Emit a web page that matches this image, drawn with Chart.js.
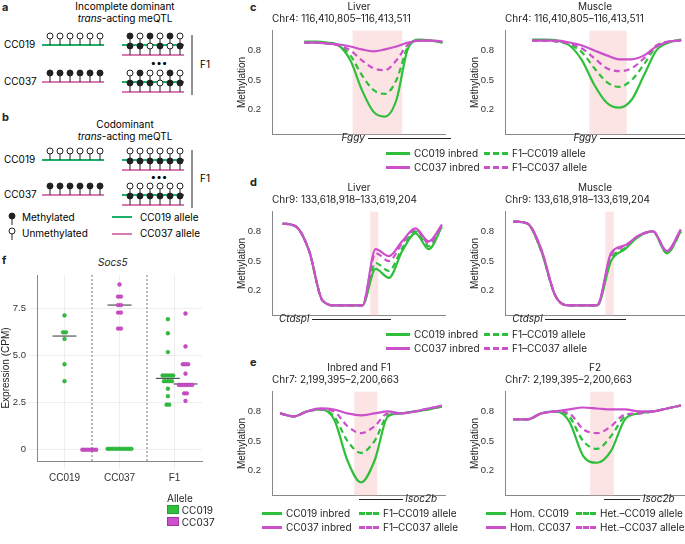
<!DOCTYPE html>
<html><head><meta charset="utf-8">
<script src="https://cdn.jsdelivr.net/npm/chart.js@4.4.0/dist/chart.umd.min.js"></script>
<style>
body{margin:0;width:685px;height:544px;position:relative;background:#fff;font-family:Inter,"Noto Sans",sans-serif;color:#222;overflow:hidden}
.abs{position:absolute}
.t{position:absolute;font-size:10px;white-space:nowrap}
.lab{position:absolute;font-weight:bold;font-size:11px}
.leg{position:absolute;font-size:10px;display:grid;row-gap:2px;white-space:nowrap}
.leg span{display:flex;align-items:center;gap:4px;white-space:nowrap}
.sw{display:inline-block;width:24px;height:0;border-top:3px solid;flex:none}
.small .sw{width:20px}
</style></head><body>
<svg id="diag" class="abs" style="left:0;top:0" width="240" height="250"></svg>
<div class="lab" style="left:2px;top:0">a</div>
<div class="lab" style="left:2px;top:110px">b</div>
<div class="lab" style="left:250px;top:0">c</div>
<div class="lab" style="left:250px;top:175px">d</div>
<div class="lab" style="left:250px;top:355px">e</div>
<div class="lab" style="left:2px;top:253px">f</div>
<div class="t" style="left:98px;top:256px;font-style:italic">Socs5</div>
<div id="charts"></div>
<script>
// ---------- data ----------
const xPos = [0,1,2,3,4,5,6,7,8,9,10,11,12];
const cLiver019 = [0.89,0.89,0.88,0.85,0.70,0.40,0.18,0.13,0.30,0.82,0.91,0.90,0.88];
const cLiver037 = [0.88,0.88,0.87,0.86,0.84,0.81,0.79,0.81,0.84,0.88,0.90,0.90,0.89];
const cLiverF019 = [0.88,0.88,0.87,0.85,0.75,0.55,0.40,0.36,0.50,0.84,0.90,0.90,0.88];
const cLiverF037 = [0.88,0.88,0.87,0.85,0.80,0.70,0.62,0.60,0.70,0.86,0.90,0.90,0.89];
const cMus019 = [0.91,0.91,0.90,0.85,0.70,0.45,0.27,0.22,0.30,0.55,0.80,0.88,0.91];
const cMus037 = [0.90,0.90,0.90,0.88,0.85,0.80,0.75,0.71,0.71,0.75,0.84,0.89,0.90];
const cMusF019 = [0.90,0.90,0.89,0.86,0.78,0.62,0.48,0.43,0.50,0.66,0.84,0.89,0.90];
const cMusF037 = [0.90,0.90,0.89,0.87,0.82,0.72,0.62,0.59,0.62,0.72,0.85,0.89,0.90];
const dLiver019 = [0.88,0.85,0.60,0.10,0.05,0.05,0.05,0.42,0.33,0.60,0.78,0.62,0.85];
const dLiver037 = [0.88,0.85,0.60,0.10,0.05,0.05,0.05,0.62,0.55,0.70,0.83,0.70,0.87];
const dLiverF019 = [0.88,0.85,0.60,0.10,0.05,0.05,0.05,0.48,0.40,0.63,0.80,0.65,0.86];
const dLiverF037 = [0.88,0.85,0.60,0.10,0.05,0.05,0.05,0.58,0.50,0.68,0.82,0.68,0.86];
const dMus019 = [0.90,0.88,0.60,0.15,0.05,0.05,0.05,0.50,0.62,0.75,0.80,0.58,0.80];
const dMus037 = [0.90,0.88,0.62,0.15,0.05,0.05,0.05,0.58,0.66,0.76,0.80,0.60,0.82];
const dMusF019 = [0.90,0.88,0.60,0.15,0.05,0.05,0.05,0.52,0.63,0.75,0.80,0.58,0.80];
const dMusF037 = [0.90,0.88,0.61,0.15,0.05,0.05,0.05,0.56,0.65,0.76,0.80,0.60,0.81];
const eInb019 = [0.78,0.75,0.80,0.82,0.72,0.30,0.08,0.30,0.75,0.78,0.80,0.82,0.85];
const eInb037 = [0.78,0.75,0.80,0.83,0.82,0.78,0.76,0.78,0.80,0.78,0.80,0.83,0.86];
const eInbF019 = [0.78,0.75,0.80,0.82,0.75,0.50,0.38,0.50,0.76,0.78,0.80,0.82,0.85];
const eInbF037 = [0.78,0.75,0.80,0.82,0.80,0.65,0.58,0.65,0.78,0.78,0.80,0.83,0.85];
const eF2Hom019 = [0.72,0.72,0.78,0.80,0.70,0.35,0.28,0.40,0.72,0.78,0.80,0.83,0.86];
const eF2Hom037 = [0.72,0.72,0.78,0.80,0.82,0.84,0.83,0.82,0.82,0.80,0.80,0.83,0.86];
const eF2Het019 = [0.72,0.72,0.78,0.80,0.75,0.50,0.42,0.55,0.75,0.78,0.80,0.83,0.86];
const eF2Het037 = [0.72,0.72,0.78,0.80,0.78,0.62,0.58,0.65,0.77,0.78,0.80,0.83,0.86];
const methTicks = [0.2,0.5,0.8];
const fCategories = ['CC019','CC037','F1'];
const fCC019_g = [7.15,6.25,6.25,5.9,4.55,3.65];
const fCC019_m = [0,0,0,0,0,0];
const fCC037_g = [0.05,0.05,0.05,0.05,0.05,0.05,0.05,0.05,0.05,0.05];
const fCC037_m = [8.8,8.15,8.15,7.7,7.7,7.3,7.3,6.45,6.45];
const fF1_g = [6.95,6.2,5.2,3.95,3.95,3.95,3.95,3.95,3.65,3.65,3.65,3.65,3.25,2.85,2.4,2.4];
const fF1_m = [7.25,5.5,4.55,4.55,4.55,4.05,3.45,3.45,3.45,3.45,3.45,3.45,3.0,3.0,2.6];
const fMedians = [[1,6.05,'g'],[2,7.7,'m'],[2.88,3.8,'g'],[3.2,3.5,'m']];
const fTicks = [0,2.5,5.0,7.5];

const G='#2fbf3a', M='#cc4fcc', GD='#23a035', MD='#a8329f';

// ---------- line panels ----------
function shadePlugin(a,b){return{id:'shade',beforeDatasetsDraw(ch){const x=ch.scales.x,ar=ch.chartArea,c=ch.ctx;
 c.save();c.fillStyle='rgba(250,205,205,0.55)';const x1=x.getPixelForValue(a),x2=x.getPixelForValue(b);c.fillRect(x1,ar.top,x2-x1,ar.bottom-ar.top);c.restore();}}}
function linePanel(left,top,w,h,sets,shade,titles,gene,xmin){
 const wrap=document.createElement('div');wrap.className='abs';wrap.style.left=left+'px';wrap.style.top=top+'px';
 const cv=document.createElement('canvas');cv.width=w;cv.height=h;cv.style.width=w+'px';cv.style.height=h+'px';wrap.appendChild(cv);document.getElementById('charts').appendChild(wrap);
 const mk=(d,col,dash)=>({data:xPos.map((x,i)=>({x,y:d[i]})),borderColor:col,borderWidth:2.2,borderDash:dash?[6,4]:[],pointRadius:0,cubicInterpolationMode:'monotone'});
 new Chart(cv,{type:'line',data:{datasets:[mk(sets[1],M,false),mk(sets[3],M,true),mk(sets[2],G,true),mk(sets[0],G,false)]},
 options:{animation:false,responsive:false,layout:{padding:{top:4,right:0}},plugins:{legend:{display:false},tooltip:{enabled:false}},
 scales:{x:{type:'linear',min:xmin,max:12.3,grid:{display:false},ticks:{display:false},border:{color:'#888'}},
 y:{min:-0.05,max:1.0,afterBuildTicks(s){s.ticks=methTicks.map(v=>({value:v}))},afterFit(s){s.width=36},grid:{display:false},border:{color:'#888'},
 ticks:{font:{size:9.5},color:'#333',callback:v=>v.toFixed(1)},title:{display:true,text:'Methylation',font:{size:10},color:'#222',padding:0}}}},
 plugins:[shadePlugin(shade[0],shade[1])]});
 const tt=document.createElement('div');tt.className='t';tt.style.left=(left+36)+'px';tt.style.top=(top-22)+'px';tt.style.width=(w-36)+'px';
 tt.innerHTML='<div style="text-align:center">'+titles[0]+'</div><div>'+titles[1]+'</div>';document.body.appendChild(tt);
 const g=document.createElement('div');g.className='t';g.style.left=(left+36+(w-36)*gene[1])+'px';g.style.top=(top+h-12)+'px';
 const ln='<span style="display:inline-block;width:'+((w-36)*gene[2])+'px;border-top:1px solid #222;vertical-align:middle"></span>';
 g.innerHTML=gene[3]?ln+' <i>'+gene[0]+'</i>':'<i>'+gene[0]+'</i> '+ln;document.body.appendChild(g);
}
linePanel(236,22,210,121,[cLiver019,cLiver037,cLiverF019,cLiverF037],[4.2,8.5],['Liver','Chr4: 116,410,805–116,413,511'],['Fggy',0.4,0.48],-2.8);
linePanel(469,22,216,121,[cMus019,cMus037,cMusF019,cMusF037],[4.6,7.6],['Muscle','Chr4: 116,410,805–116,413,511'],['Fggy',0.38,0.5],-2.2);
linePanel(236,203,210,121,[dLiver019,dLiver037,dLiverF019,dLiverF037],[6.6,7.2],['Liver','Chr9: 133,618,918–133,619,204'],['Ctdspl',0.04,0.45],-0.8);
linePanel(469,203,216,121,[dMus019,dMus037,dMusF019,dMusF037],[6.6,7.2],['Muscle','Chr9: 133,618,918–133,619,204'],['Ctdspl',0.04,0.45],-0.6);
linePanel(236,383,210,121,[eInb019,eInb037,eInbF019,eInbF037],[5.5,7.2],['Inbred and F1','Chr7: 2,199,395–2,200,663'],['Isoc2b',0.5,0.25,1],-0.6);
linePanel(469,383,216,121,[eF2Hom019,eF2Hom037,eF2Het019,eF2Het037],[5.5,7.2],['F2','Chr7: 2,199,395–2,200,663'],['Isoc2b',0.55,0.2,1],-0.6);
function legend(left,top,cols,l,cls){const d=document.createElement('div');d.className='leg '+(cls||'');d.style.left=left+'px';d.style.top=top+'px';d.style.gridTemplateColumns=cols;
 d.innerHTML=`<span><i class="sw" style="border-color:${G}"></i>${l[0]}</span><span><i class="sw" style="border-color:${G};border-top-style:dashed"></i>${l[2]}</span><span><i class="sw" style="border-color:${M}"></i>${l[1]}</span><span><i class="sw" style="border-color:${M};border-top-style:dashed"></i>${l[3]}</span>`;document.body.appendChild(d);}
const L1=['CC019 inbred','CC037 inbred','F1–CC019 allele','F1–CC037 allele'];
legend(386,147,'98px 120px',L1);
legend(386,328,'98px 120px',L1);
legend(262,507,'97px 105px',L1,'small');
legend(486,507,'90px 105px',['Hom. CC019','Hom. CC037','Het.–CC019 allele','Het.–CC037 allele'],'small');

// ---------- panel f ----------
function dodge(vals,center,step){const cnt={},out=[];vals.forEach(v=>{cnt[v]=(cnt[v]||0)+1});const seen={};
 vals.forEach(v=>{const n=cnt[v],k=seen[v]=(seen[v]||0);seen[v]++;out.push({x:center+(k-(n-1)/2)*step,y:v});});return out;}
(function(){const wrap=document.createElement('div');wrap.className='abs';wrap.style.left='0px';wrap.style.top='262px';
 const cv=document.createElement('canvas');cv.width=215;cv.height=225;wrap.appendChild(cv);document.getElementById('charts').appendChild(wrap);
 const pt=(d,col,bc)=>({type:'scatter',data:d,backgroundColor:col,borderColor:bc,borderWidth:0.5,pointRadius:1.9});
 const medData=fMedians.map(m=>({x:m[0],y:m[1]}));
 new Chart(cv,{data:{datasets:[
  pt(dodge(fCC019_g,1,0.05),G,GD),pt(dodge(fCC019_m,1.45,0.05),M,MD),
  pt(dodge(fCC037_g,2,0.048),G,GD),pt(dodge(fCC037_m,2,0.05),M,MD),
  pt(dodge(fF1_g,2.88,0.048),G,GD),pt(dodge(fF1_m,3.2,0.048),M,MD),
  {type:'scatter',data:medData,pointStyle:'line',pointRadius:12,borderColor:'#333',borderWidth:1,backgroundColor:'#333'}]},
 options:{animation:false,responsive:false,layout:{padding:{top:3,right:6}},plugins:{legend:{display:false},tooltip:{enabled:false}},
  scales:{x:{type:'linear',min:0.5,max:3.5,afterBuildTicks(s){s.ticks=[1,2,3].map(v=>({value:v}))},ticks:{callback:v=>fCategories[v-1],font:{size:10},color:'#333'},grid:{color:'#eee'},border:{color:'#888'}},
  y:{min:-0.6,max:9.3,afterBuildTicks(s){s.ticks=fTicks.map(v=>({value:v}))},afterFit(s){s.width=37},ticks:{font:{size:9.5},color:'#333',callback:v=>v===0?'0':v.toFixed(1)},grid:{color:'#eee'},border:{color:'#888'},
   title:{display:true,text:'Expression (CPM)',font:{size:10},color:'#222',padding:0}}}},
 plugins:[{id:'sep',beforeDatasetsDraw(ch){const c=ch.ctx,x=ch.scales.x,a=ch.chartArea;c.save();c.strokeStyle='#777';c.setLineDash([2,2]);
  [1.5,2.5].forEach(v=>{const p=x.getPixelForValue(v);c.beginPath();c.moveTo(p,a.top);c.lineTo(p,a.bottom);c.stroke();});c.restore();}}]});
 const l=document.createElement('div');l.className='t';l.style.left='167px';l.style.top='492px';
 l.innerHTML=`Allele<br><span style="display:inline-block;width:10px;height:7px;background:${G};border:1px solid ${GD}"></span> CC019<br><span style="display:inline-block;width:10px;height:7px;background:${M};border:1px solid ${MD}"></span> CC037`;document.body.appendChild(l);
})();

// ---------- schematic a/b ----------
(function(){const s=document.getElementById('diag');let h='';
 const txt=(x,y,t,st)=>h+=`<text x="${x}" y="${y}" font-size="10" font-family="Inter,sans-serif" ${st||''}>${t}</text>`;
 const line=(x1,y,x2,c)=>h+=`<line x1="${x1}" y1="${y}" x2="${x2}" y2="${y}" stroke="${c}" stroke-width="2"/>`;
 const lol=(x,y,f)=>h+=`<line x1="${x}" y1="${y}" x2="${x}" y2="${y-7}" stroke="#222"/><circle cx="${x}" cy="${y-9}" r="3" fill="${f?'#222':'#fff'}" stroke="#222"/>`;
 const row=(x0,y,c,pat)=>{line(x0,y,x0+62,c);pat.forEach((f,i)=>lol(x0+8+i*10,y,f));};
 txt(125,10,'Incomplete dominant','text-anchor="middle"');txt(125,22,'<tspan font-style="italic">trans</tspan>-acting meQTL','text-anchor="middle"');
 const G0='#1fae6a',P0='#d77ab0';
 row(42,45,G0,[0,0,0,0,0,0]);txt(4,48,'CC019');row(122,45,G0,[1,0,1,0,1,0]);row(122,55,P0,[1,1,0,1,0,1]);
 txt(159,66,'•••','text-anchor="middle"');
 row(42,82,P0,[1,1,1,1,1,1]);txt(4,85,'CC037');row(122,82,G0,[0,1,0,0,1,0]);row(122,92,P0,[1,1,1,0,1,1]);
 h+=`<line x1="192" y1="35" x2="192" y2="95" stroke="#222"/>`;txt(200,68,'F1');
 txt(125,128,'Codominant','text-anchor="middle"');txt(125,140,'<tspan font-style="italic">trans</tspan>-acting meQTL','text-anchor="middle"');
 row(42,160,G0,[0,0,0,0,0,0]);txt(4,163,'CC019');row(122,160,G0,[0,0,0,0,0,0]);row(122,170,P0,[1,1,1,1,1,1]);
 txt(159,180,'•••','text-anchor="middle"');
 row(42,195,P0,[1,1,1,1,1,1]);txt(4,198,'CC037');row(122,195,G0,[0,0,0,0,0,0]);row(122,205,P0,[1,1,1,1,1,1]);
 h+=`<line x1="192" y1="150" x2="192" y2="208" stroke="#222"/>`;txt(200,182,'F1');
 lol(12,225,1);txt(22,221,'Methylated');lol(12,240,0);txt(22,237,'Unmethylated');
 line(112,217,132,G0);txt(140,221,'CC019 allele');line(112,234,132,P0);txt(140,237,'CC037 allele');
 s.innerHTML=h;})();
</script></body></html>
